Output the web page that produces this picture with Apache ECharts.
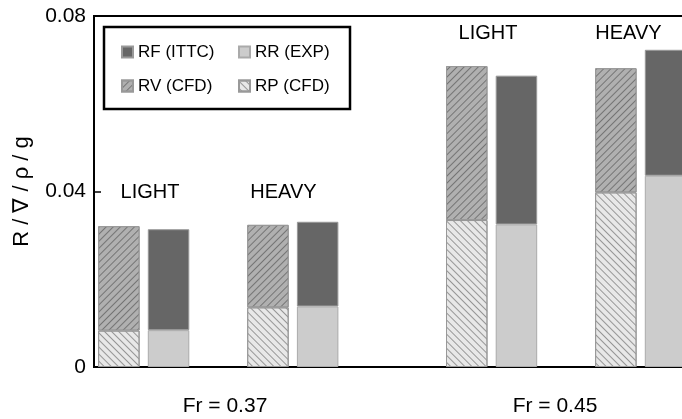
<!DOCTYPE html>
<html>
<head>
<meta charset="utf-8">
<script src="https://cdn.jsdelivr.net/npm/echarts@6/dist/echarts.min.js"></script>
<style>
html,body{margin:0;padding:0;background:#fff;}
#c{width:682px;height:419px;}
</style>
</head>
<body>
<div id="c"></div>
<script>
// ---- data ----
const froude = ['Fr = 0.37', 'Fr = 0.45'];
const loads = ['LIGHT', 'HEAVY', 'LIGHT', 'HEAVY'];
const rpCFD  = [0.0083, 0.0136, 0.0335, 0.0398];
const rvCFD  = [0.0238, 0.0188, 0.0351, 0.0283];
const rrEXP  = [0.0084, 0.0138, 0.0325, 0.0436];
const rfITTC = [0.0230, 0.0193, 0.0339, 0.0287];
const yTicks = [0, 0.04, 0.08];

// ---- layout ----
const NSLOT = 12;
const cfdSlot = [0, 3, 7, 10];
const expSlot = [1, 4, 8, 11];
const slots = Array.from({length: NSLOT}, (_, i) => 's' + i);
function place(vals, idx) {
  const arr = new Array(NSLOT).fill('-');
  idx.forEach((s, k) => { arr[s] = vals[k]; });
  return arr;
}
const FONT = 'Liberation Sans, Arial, sans-serif';

const chart = echarts.init(document.getElementById('c'), null, {renderer: 'canvas'});
const barBase = {type: 'bar', stack: 'a', barWidth: 41.5};

chart.setOption({
  animation: false,
  backgroundColor: '#fff',
  textStyle: {fontFamily: FONT},
  grid: {left: 94, top: 16, width: 49.7 * NSLOT, height: 351, show: true, borderColor: '#000', borderWidth: 2,
    containLabel: false, outerBoundsMode: 'none'},
  legend: {
    left: 104, top: 27,
    width: 236,
    padding: [13, 5, 11, 17],
    itemGap: 10,
    itemWidth: 11, itemHeight: 11,
    icon: 'rect',
    borderColor: '#000', borderWidth: 2.5,
    textStyle: {fontSize: 17, color: '#000', fontFamily: FONT, width: 90, lineHeight: 24},
    data: ['RF (ITTC)', 'RR (EXP)', 'RV (CFD)', 'RP (CFD)']
  },
  xAxis: {
    type: 'category', data: slots,
    axisLabel: {show: false}, axisTick: {show: false},
    axisLine: {lineStyle: {color: '#000', width: 2}}
  },
  yAxis: {
    type: 'value', min: 0, max: 0.08, interval: 0.04,
    name: 'R / \u2207 / \u03c1 / g', nameLocation: 'middle', nameGap: 61, nameRotate: 90,
    nameTextStyle: {fontSize: 22, color: '#000', fontFamily: FONT},
    axisLine: {show: true, lineStyle: {color: '#000', width: 2}},
    axisTick: {show: true, inside: true, length: 7, lineStyle: {color: '#000', width: 1.5}},
    splitLine: {show: false},
    axisLabel: {fontSize: 21, color: '#000', margin: 8, fontFamily: FONT,
      formatter: v => (yTicks.indexOf(v) >= 0 ? (v === 0 ? '0' : v.toFixed(2)) : '')}
  },
  series: [
    Object.assign({}, barBase, {
      name: 'RP (CFD)', data: place(rpCFD, cfdSlot),
      itemStyle: {color: '#e8e8e8', borderColor: '#999', borderWidth: 1,
        decal: {symbol: 'rect', color: '#969696', dashArrayX: [1, 0], dashArrayY: [1, 4], rotation: Math.PI / 4}}
    }),
    Object.assign({}, barBase, {
      name: 'RR (EXP)', data: place(rrEXP, expSlot),
      itemStyle: {color: '#cccccc', borderColor: '#aaa', borderWidth: 1}
    }),
    Object.assign({}, barBase, {
      name: 'RV (CFD)', data: place(rvCFD, cfdSlot),
      itemStyle: {color: '#b0b0b0', borderColor: '#999', borderWidth: 1,
        decal: {symbol: 'rect', color: '#747474', dashArrayX: [1, 0], dashArrayY: [1, 4], rotation: -Math.PI / 4}}
    }),
    Object.assign({}, barBase, {
      name: 'RF (ITTC)', data: place(rfITTC, expSlot),
      itemStyle: {color: '#666666', borderColor: '#999', borderWidth: 1}
    })
  ],
  graphic: [
    {type: 'text', x: 150, y: 192, style: {text: loads[0], font: '20px ' + FONT, fill: '#000', align: 'center', verticalAlign: 'middle'}},
    {type: 'text', x: 283.5, y: 192, style: {text: loads[1], font: '20px ' + FONT, fill: '#000', align: 'center', verticalAlign: 'middle'}},
    {type: 'text', x: 488, y: 33, style: {text: loads[2], font: '20px ' + FONT, fill: '#000', align: 'center', verticalAlign: 'middle'}},
    {type: 'text', x: 628.5, y: 33, style: {text: loads[3], font: '20px ' + FONT, fill: '#000', align: 'center', verticalAlign: 'middle'}},
    {type: 'text', x: 225, y: 406, style: {text: froude[0], font: '21px ' + FONT, fill: '#000', align: 'center', verticalAlign: 'middle'}},
    {type: 'text', x: 555, y: 406, style: {text: froude[1], font: '21px ' + FONT, fill: '#000', align: 'center', verticalAlign: 'middle'}}
  ]
});
</script>
</body>
</html>
